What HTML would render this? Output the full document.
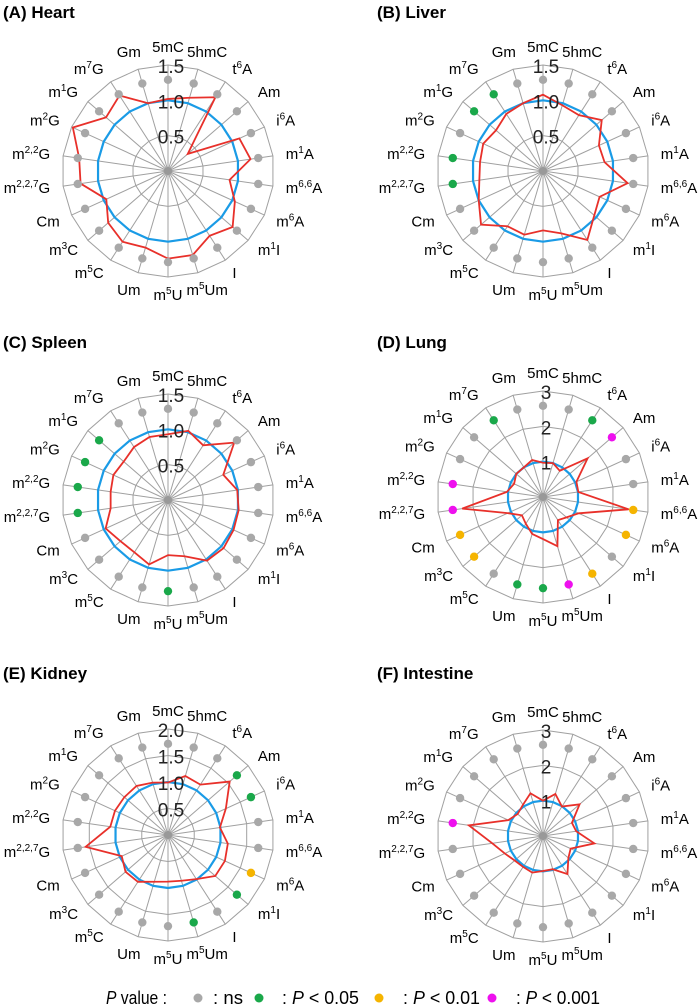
<!DOCTYPE html>
<html><head><meta charset="utf-8">
<style>
html,body{margin:0;padding:0;background:#fff;}
svg{display:block;font-family:"Liberation Sans",Arial,sans-serif;}
</style></head>
<body>
<svg id="fig" width="700" height="1008" viewBox="0 0 700 1008" xmlns="http://www.w3.org/2000/svg">
<g font-size="18" fill="#000">
  <text x="106" y="1004" textLength="61" lengthAdjust="spacingAndGlyphs"><tspan font-style="italic">P</tspan> value :</text>
  <circle cx="198" cy="998" r="4.5" fill="#a8a8a8"/>
  <text x="213" y="1004" textLength="30" lengthAdjust="spacingAndGlyphs">: ns</text>
  <circle cx="259" cy="998" r="4.5" fill="#1aa84a"/>
  <text x="282" y="1004" textLength="77" lengthAdjust="spacingAndGlyphs">: <tspan font-style="italic">P</tspan> &lt; 0.05</text>
  <circle cx="379" cy="998" r="4.5" fill="#f5b400"/>
  <text x="403" y="1004" textLength="77" lengthAdjust="spacingAndGlyphs">: <tspan font-style="italic">P</tspan> &lt; 0.01</text>
  <circle cx="492" cy="998" r="4.5" fill="#ee10ee"/>
  <text x="516" y="1004" textLength="84" lengthAdjust="spacingAndGlyphs">: <tspan font-style="italic">P</tspan> &lt; 0.001</text>
</g>
</svg>
<script>
// categories (clockwise from top)
const categories = ["5mC","5hmC","t6A","Am","i6A","m1A","m6,6A","m6A","m1I","I","m5Um","m5U","Um","m5C","m3C","Cm","m2,2,7G","m2,2G","m2G","m1G","m7G","Gm"];
const panelNames = ["(A)  Heart","(B)  Liver","(C)  Spleen","(D)  Lung","(E)  Kidney","(F)  Intestine"];
const heartValues = [1.02,1.08,1.24,0.37,1.11,1.18,0.88,1.04,1.21,1.09,1.24,1.24,1.13,1.19,1.12,0.96,1.25,1.27,1.48,1.16,1.27,1.0];
const liverValues = [1.08,0.97,0.94,1.1,0.87,0.88,1.21,0.88,0.96,1.16,0.92,0.84,0.94,0.93,1.16,1.0,0.91,0.9,0.93,0.88,0.96,1.0];
const spleenValues = [0.93,1.02,0.92,1.24,0.86,0.99,1.01,1.02,1.04,1.02,0.83,0.78,0.95,0.88,0.89,0.97,0.82,0.82,0.85,0.83,0.89,0.93];
const lungValues = [0.97,1.0,0.88,1.67,1.04,1.01,2.45,1.11,0.88,0.78,1.45,1.19,1.09,0.9,0.79,1.1,2.31,1.03,0.9,1.0,1.0,1.09];
const kidneyValues = [0.99,1.16,1.13,1.54,1.2,0.99,1.14,1.18,1.18,0.99,0.9,0.88,0.92,1.05,1.06,0.96,1.57,1.1,1.1,1.09,1.1,1.03];
const intestineValues = [1.0,1.24,0.99,1.37,0.9,0.95,1.47,0.86,0.95,1.28,0.98,0.99,1.08,1.04,1.06,1.19,1.45,2.12,1.08,0.95,1.05,1.26];
const controlValue = [1,1,1,1,1,1,1,1,1,1,1,1,1,1,1,1,1,1,1,1,1,1];
// significance codes per category: 0 ns, 1 p<0.05, 2 p<0.01, 3 p<0.001
const heartSig = [0,0,0,0,0,0,0,0,0,0,0,0,0,0,0,0,0,0,0,0,0,0];
const liverSig = [0,0,0,0,0,0,0,0,0,0,0,0,0,0,0,0,1,1,0,1,1,0];
const spleenSig = [0,0,0,0,0,0,0,0,0,0,0,1,0,0,0,0,1,1,1,1,0,0];
const lungSig = [0,0,1,3,0,0,2,2,0,2,3,1,1,0,2,2,3,3,0,0,1,0];
const kidneySig = [0,0,0,1,1,0,0,2,1,0,1,0,0,0,0,0,0,0,0,0,0,0];
const intestineSig = [0,0,0,0,0,0,0,0,0,0,0,0,0,0,0,0,0,3,0,0,0,0];
const axisMax = [1.5,1.5,1.5,3,2,3];
const heartTicks = ["0.5","1.0","1.5"];
const liverTicks = ["0.5","1.0","1.5"];
const spleenTicks = ["0.5","1.0","1.5"];
const lungTicks = ["1","2","3"];
const kidneyTicks = ["0.5","1.0","1.5","2.0"];
const intestineTicks = ["1","2","3"];

const allValues=[heartValues,liverValues,spleenValues,lungValues,kidneyValues,intestineValues];
const allSig=[heartSig,liverSig,spleenSig,lungSig,kidneySig,intestineSig];
const allTicks=[heartTicks,liverTicks,spleenTicks,lungTicks,kidneyTicks,intestineTicks];
const sigColors=["#a8a8a8","#1aa84a","#f5b400","#ee10ee"];
const centers=[[168,171],[543,171],[168,500],[543,497],[168,835],[543,836]];
const titlePos=[[3,18],[377,18],[3,348],[377,348],[3,679],[377,679]];
const R=106, N=categories.length, NS="http://www.w3.org/2000/svg";
const svg=document.getElementById('fig');
function mk(tag,attrs,parent){const e=document.createElementNS(NS,tag);for(const k in attrs)e.setAttribute(k,attrs[k]);(parent||svg).appendChild(e);return e;}
function ang(i){return i*2*Math.PI/N;}
function pt(cx,cy,i,r){return [cx+r*Math.sin(ang(i)),cy-r*Math.cos(ang(i))];}
function labelHTML(t,el){
  if(t.match(/^[ti]6A$/)){addParts(el,t[0],"6","A");return;}
  const mm=t.match(/^m([\d,]+)(.+)$/);
  if(mm){addParts(el,"m",mm[1],mm[2]);return;}
  el.textContent=t;
}
function addParts(el,a,sup,b){
  const t1=mk('tspan',{},el);t1.textContent=a;
  const t2=mk('tspan',{dy:"-6","font-size":"10"},el);t2.textContent=sup;
  const t3=mk('tspan',{dy:"6"},el);t3.textContent=b;
}
for(let p=0;p<6;p++){
  const [cx,cy]=centers[p], max=axisMax[p], vals=allValues[p], sig=allSig[p], ticks=allTicks[p];
  const g=mk('g',{});
  
  
  const tt=mk('text',{x:titlePos[p][0],y:titlePos[p][1],"font-size":"17","font-weight":"bold"},g);
  tt.textContent=panelNames[p];
  
  
  ticks.forEach(tk=>{
    const r=parseFloat(tk)/max*R;
    const pts=[];for(let i=0;i<N;i++)pts.push(pt(cx,cy,i,r).join(','));
    const ring=mk('polygon',{points:pts.join(' '),fill:"none",stroke:"#a0a0a0","stroke-width":"1"},g);
    
    
  });
  for(let i=0;i<N;i++){
    const e=pt(cx,cy,i,R);
    const sp=mk('line',{x1:cx,y1:cy,x2:e[0],y2:e[1],stroke:"#a0a0a0","stroke-width":"1"},g);
    
    
  }
  mk('circle',{cx:cx,cy:cy,r:4,fill:"#999"},g);
  let cp=[];for(let i=0;i<N;i++)cp.push(pt(cx,cy,i,controlValue[i]/max*R).join(','));
  const bl=mk('polygon',{points:cp.join(' '),fill:"none",stroke:"#1a9be6","stroke-width":"2.2"},g);
  
  
  let rp=[];for(let i=0;i<N;i++)rp.push(pt(cx,cy,i,vals[i]/max*R).join(','));
  const rl=mk('polygon',{points:rp.join(' '),fill:"none",stroke:"#e8302a","stroke-width":"1.8","stroke-linejoin":"miter"},g);
  
  
  for(let i=0;i<N;i++){
    const d=pt(cx,cy,i,0.86*R);
    const c=mk('circle',{cx:d[0],cy:d[1],r:4.2,fill:sigColors[sig[i]]},g);
    
    
  }
  ticks.forEach(tk=>{
    const r=parseFloat(tk)/max*R;
    const t=mk('text',{x:cx+3,y:cy-r+8,"font-size":"19","text-anchor":"middle",fill:"#222"},g);
    t.textContent=tk;
    
    
  });
  for(let i=0;i<N;i++){
    const s=Math.sin(ang(i)), c=Math.cos(ang(i));
    const mid=Math.abs(s)<0.3;
    const lx=cx+(mid?139:119)*s, ly=cy-(mid?124:121)*c+5;
    const anchor=mid?"middle":(s>0?"start":"end");
    const t=mk('text',{x:lx,y:ly,"font-size":"15","text-anchor":anchor,fill:"#000"},g);
    labelHTML(categories[i],t);
    
    
  }
}
</script>
</body></html>
